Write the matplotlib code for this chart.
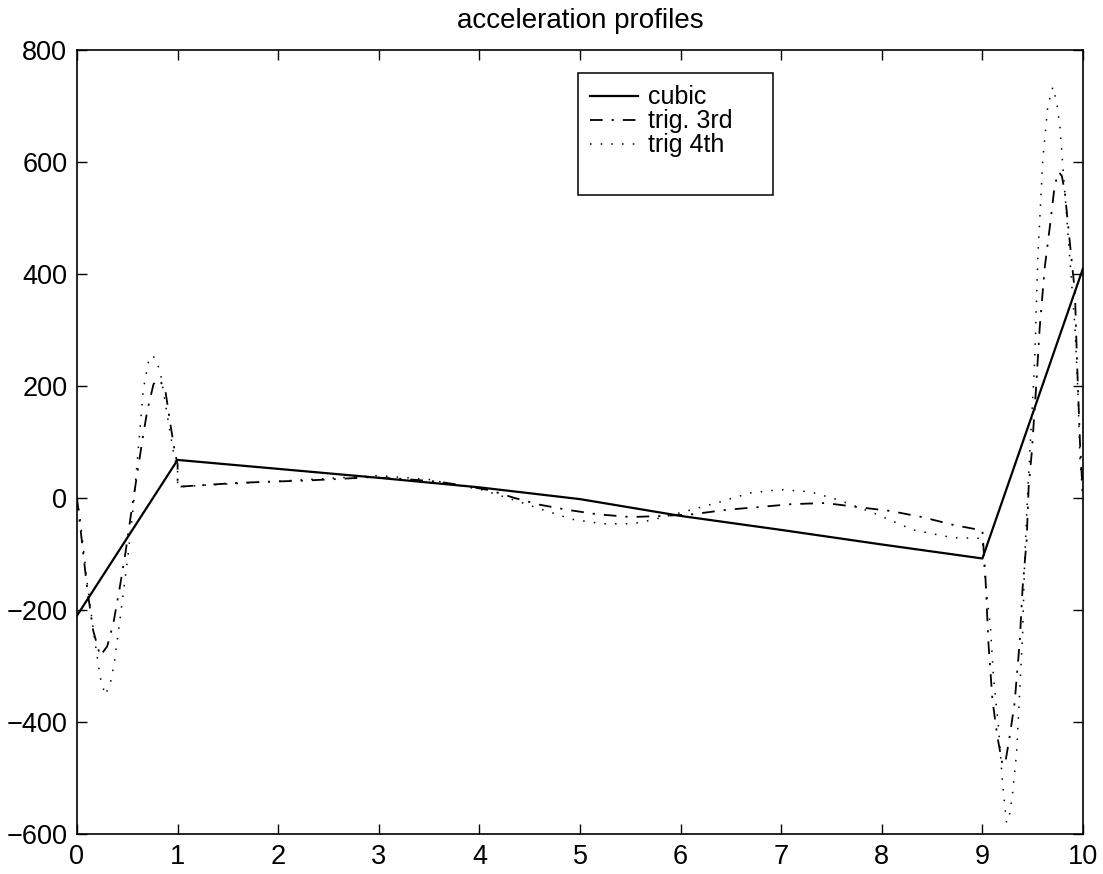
import matplotlib
matplotlib.use('Agg')
import matplotlib.pyplot as plt
from matplotlib.patches import Rectangle

# cubic: piecewise linear acceleration
cubic_x = [0, 1, 3, 4, 5, 6, 7, 8, 9, 10]
cubic_y = [-210, 68, 36, 19, -2, -32, -57, -83, -108, 410]

# trig. 3rd
trig3_x = [0, 0.05, 0.1, 0.16, 0.23, 0.3, 0.36, 0.42, 0.48, 0.54, 0.6, 0.66, 0.7,
           0.76, 0.8, 0.84, 0.88, 0.93, 0.97, 1.0,
           1.0, 1.25, 1.6, 1.9, 2.25, 2.6, 2.9, 3.25, 3.6, 3.85, 4.1, 4.35, 4.6,
           4.87, 5.17, 5.5, 5.83, 6.12, 6.46, 6.79, 7.1, 7.44, 7.75, 8.08, 8.4,
           8.71, 9.0,
           9.03, 9.06, 9.1, 9.15, 9.2, 9.23, 9.27, 9.32, 9.37, 9.4, 9.44, 9.46,
           9.49, 9.53, 9.57, 9.62, 9.67, 9.72, 9.76, 9.79, 9.82, 9.87, 9.92,
           9.94, 9.97, 10.0]
trig3_y = [0, -80, -160, -236, -282, -265, -225, -165, -100, -25, 45, 115, 157,
           203, 212, 205, 190, 130, 85, 60,
           20, 23, 27, 29, 31, 34, 37, 34, 29, 22, 14, 0, -12,
           -21, -29, -34, -32, -29, -21, -16, -11, -9, -16, -23, -34,
           -48, -58,
           -141, -259, -361, -427, -477, -470, -427, -366, -259, -159, -75, 20,
           80, 187, 305, 412, 484, 560, 582, 575, 545, 455, 366,
           246, 98, 0]

# trig 4th
trig4_x = [0, 0.03, 0.06, 0.1, 0.14, 0.18, 0.23, 0.28, 0.33, 0.37, 0.41, 0.46,
           0.51, 0.56, 0.6, 0.66, 0.71, 0.75, 0.79, 0.83, 0.9, 0.96, 1.0,
           1.0, 1.5, 2.0, 2.5, 3.0, 3.5, 4.04, 4.35, 4.63, 4.92, 5.22, 5.52,
           5.72, 6.11, 6.39, 6.69, 6.99, 7.29, 7.58, 7.95, 8.31, 8.71, 9.0,
           9.03, 9.08, 9.11, 9.16, 9.2, 9.24, 9.27, 9.3, 9.34, 9.37, 9.4, 9.42,
           9.45, 9.48, 9.52, 9.55, 9.6, 9.65, 9.7, 9.74, 9.77, 9.82, 9.87,
           9.92, 9.95, 9.97, 10.0]
trig4_y = [0, -35, -85, -150, -205, -258, -320, -352, -332, -295, -241, -170,
           -98, -15, 68, 195, 243, 255, 245, 223, 145, 80, 50,
           20, 25, 30, 35, 40, 33, 14, -4, -21, -38, -46, -46,
           -39, -21, -7, 9, 15, 11, -4, -29, -57, -71, -72,
           -152, -230, -320, -409, -509, -580, -565, -527, -455, -348, -241, -111,
           9, 110, 246, 425, 604, 700, 734, 705, 663, 545, 425,
           305, 187, 68, 0]

labels = ['cubic', 'trig. 3rd', 'trig 4th']

plt.rcParams['font.family'] = ['Liberation Sans', 'DejaVu Sans']

fig = plt.figure(figsize=(11.03, 8.74), dpi=100)
ax = fig.add_axes([77 / 1103, 1 - 834 / 874, 1006 / 1103, 784 / 874])

ax.plot(cubic_x, cubic_y, color='black', lw=1.6, ls='-', label=labels[0])
ax.plot(trig3_x, trig3_y, color='black', lw=1.3, ls=(0, (7, 5, 1.2, 5)), label=labels[1])
ax.plot(trig4_x, trig4_y, color='black', lw=1.1, ls=(0, (1, 6)), label=labels[2])

ax.set_xlim(0, 10)
ax.set_ylim(-600, 800)
ax.set_xticks(range(0, 11))
ax.set_yticks(range(-600, 801, 200))
ax.tick_params(direction='in', length=7, width=1, labelsize=19.5,
               top=True, right=True, pad=7)
for s in ax.spines.values():
    s.set_linewidth(1.2)
ax.set_title('acceleration profiles', fontsize=20, pad=16)

leg = ax.legend(loc='upper left', bbox_to_anchor=(0.51, 0.955), frameon=False,
                fontsize=18, handlelength=1.92, handletextpad=0.4,
                labelspacing=0.0, borderaxespad=0, borderpad=0)
ax.add_patch(Rectangle((0.498, 0.815), 0.194, 0.156, transform=ax.transAxes,
                       fill=False, edgecolor='black', lw=1.1, zorder=5))

fig.savefig('out.png', dpi=100)
